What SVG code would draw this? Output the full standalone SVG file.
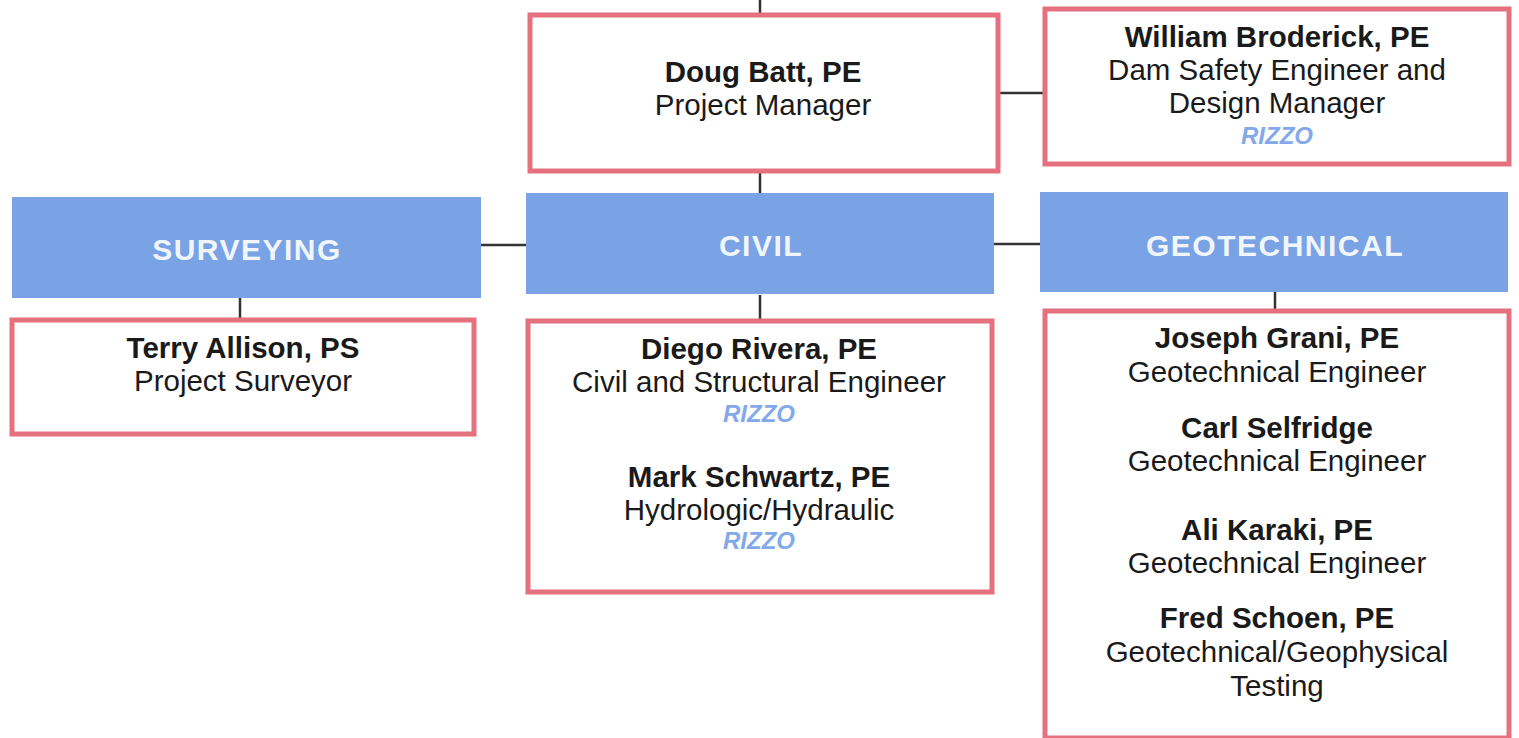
<svg xmlns="http://www.w3.org/2000/svg" width="1519" height="738" viewBox="0 0 1519 738">
<style>
.box{fill:#fff;stroke:#e5717f;stroke-width:5}
.bar{fill:#79a3e5}
.conn{stroke:#333;stroke-width:2.5;fill:none}
text{font-family:"Liberation Sans",Arial,sans-serif;text-anchor:middle;fill:#1a1a1a}
.n{font-weight:bold;font-size:29.5px}
.r{font-size:29.5px}
.z{font-weight:bold;font-style:italic;font-size:24px;fill:#84a9ea}
.h{font-weight:bold;font-size:30px;letter-spacing:1.5px;fill:#f1f5fc}
</style>
<g id="connectors">
<line class="conn" x1="760" y1="0" x2="760" y2="13"/>
<line class="conn" x1="999" y1="93" x2="1043" y2="93"/>
<line class="conn" x1="760" y1="173" x2="760" y2="194"/>
<line class="conn" x1="481" y1="245" x2="526" y2="245"/>
<line class="conn" x1="994" y1="244" x2="1040" y2="244"/>
<line class="conn" x1="240" y1="298" x2="240" y2="318"/>
<line class="conn" x1="760" y1="295" x2="760" y2="319"/>
<line class="conn" x1="1275" y1="292" x2="1275" y2="309"/>
</g>
<g id="pm">
<rect class="box" x="530" y="15" width="468" height="156"/>
<text class="n" x="763" y="82">Doug Batt, PE</text>
<text class="r" x="763" y="115">Project Manager</text>
</g>
<g id="broderick">
<rect class="box" x="1045" y="9" width="464" height="155"/>
<text class="n" x="1277" y="47">William Broderick, PE</text>
<text class="r" x="1277" y="80">Dam Safety Engineer and</text>
<text class="r" x="1277" y="113">Design Manager</text>
<text class="z" x="1277" y="144">RIZZO</text>
</g>
<g id="surveying">
<rect class="bar" x="12" y="197" width="469" height="101"/>
<text class="h" x="247" y="260">SURVEYING</text>
</g>
<g id="civil">
<rect class="bar" x="526" y="193" width="468" height="101"/>
<text class="h" x="761" y="256">CIVIL</text>
</g>
<g id="geotechnical">
<rect class="bar" x="1040" y="192" width="468" height="100"/>
<text class="h" x="1275" y="256">GEOTECHNICAL</text>
</g>
<g id="allison">
<rect class="box" x="12" y="320" width="462" height="114"/>
<text class="n" x="243" y="358">Terry Allison, PS</text>
<text class="r" x="243" y="391">Project Surveyor</text>
</g>
<g id="civil-staff">
<rect class="box" x="528" y="321" width="464" height="271"/>
<text class="n" x="759" y="359">Diego Rivera, PE</text>
<text class="r" x="759" y="392">Civil and Structural Engineer</text>
<text class="z" x="759" y="422">RIZZO</text>
<text class="n" x="759" y="487">Mark Schwartz, PE</text>
<text class="r" x="759" y="520">Hydrologic/Hydraulic</text>
<text class="z" x="759" y="549">RIZZO</text>
</g>
<g id="geo-staff">
<rect class="box" x="1045" y="311" width="464" height="427"/>
<text class="n" x="1277" y="348">Joseph Grani, PE</text>
<text class="r" x="1277" y="382">Geotechnical Engineer</text>
<text class="n" x="1277" y="438">Carl Selfridge</text>
<text class="r" x="1277" y="471">Geotechnical Engineer</text>
<text class="n" x="1277" y="540">Ali Karaki, PE</text>
<text class="r" x="1277" y="573">Geotechnical Engineer</text>
<text class="n" x="1277" y="628">Fred Schoen, PE</text>
<text class="r" x="1277" y="662">Geotechnical/Geophysical</text>
<text class="r" x="1277" y="696">Testing</text>
</g>
</svg>
